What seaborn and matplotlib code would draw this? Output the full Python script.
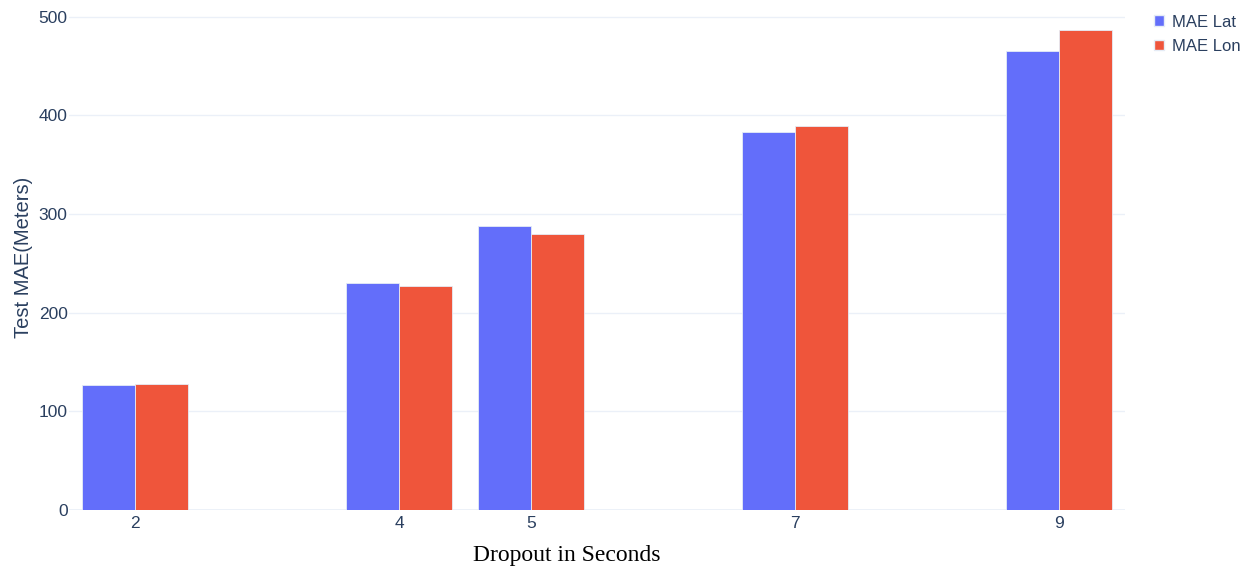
import matplotlib
matplotlib.use("Agg")
import matplotlib.pyplot as plt
import seaborn as sns
import pandas as pd
from matplotlib.patches import Patch

# Dropout durations (seconds) and test errors per direction
dropout_seconds = [2, 4, 5, 7, 9]
mae_lat = [127, 230, 288, 383, 465]
mae_lon = [128, 227, 280, 389, 487]
series_names = ["MAE Lat", "MAE Lon"]
y_ticks = [0, 100, 200, 300, 400, 500]

df = pd.DataFrame({
    "dropout": dropout_seconds * 2,
    "mae": mae_lat + mae_lon,
    "series": [series_names[0]] * len(mae_lat) + [series_names[1]] * len(mae_lon),
})

sns.set_theme(style="white")
plt.rcParams["font.family"] = ["Liberation Sans", "DejaVu Sans"]

W, H = 1248, 570
fig = plt.figure(figsize=(W / 100, H / 100), dpi=100)
left, right, top, bottom = 69, 1125, 5, 510
ax = fig.add_axes([left / W, 1 - bottom / H, (right - left) / W, (bottom - top) / H])

palette = {"MAE Lat": "#636efa", "MAE Lon": "#EF553B"}
sns.barplot(data=df, x="dropout", y="mae", hue="series", native_scale=True,
            palette=palette, width=0.8, dodge=True, saturation=1,
            edgecolor="#E5ECF6", linewidth=0.6, ax=ax, legend=False, zorder=3)

ax.set_xlim(1.5, 9.5)
ax.set_ylim(0, 512)
ax.set_xticks(dropout_seconds)
ax.set_xticklabels([str(v) for v in dropout_seconds])
ax.set_yticks(y_ticks)

tick_color = "#2a3f5f"
ax.tick_params(axis="both", length=0, labelsize=12.5, colors=tick_color)
ax.tick_params(axis="y", pad=1)
ax.tick_params(axis="x", pad=4)

for s in ax.spines.values():
    s.set_visible(False)
ax.grid(axis="y", color="#EBF0F8", linewidth=1, zorder=0)
ax.grid(axis="x", visible=False)
ax.axhline(0, color="#EBF0F8", linewidth=2, zorder=1)

ax.set_ylabel("Test MAE(Meters)", fontsize=14.5, color=tick_color, labelpad=4)
ax.set_xlabel("")

# Axis title sits a little left of the plot centre
fig.text(567 / W, 1 - 556 / H, "Dropout in Seconds", ha="center", va="center",
         fontsize=17, color="black", fontfamily="Liberation Serif")

handles = [Patch(facecolor=palette[n], edgecolor="#E5ECF6", label=n) for n in series_names]
leg = fig.legend(handles=handles, loc="upper left", bbox_to_anchor=(1147 / W, 1 - 8 / H),
                 frameon=False, fontsize=12, handlelength=0.6, handleheight=0.6,
                 handletextpad=0.5, labelspacing=0.55, borderaxespad=0)
for t in leg.get_texts():
    t.set_color(tick_color)

fig.savefig("out.png", dpi=100, facecolor="white")
